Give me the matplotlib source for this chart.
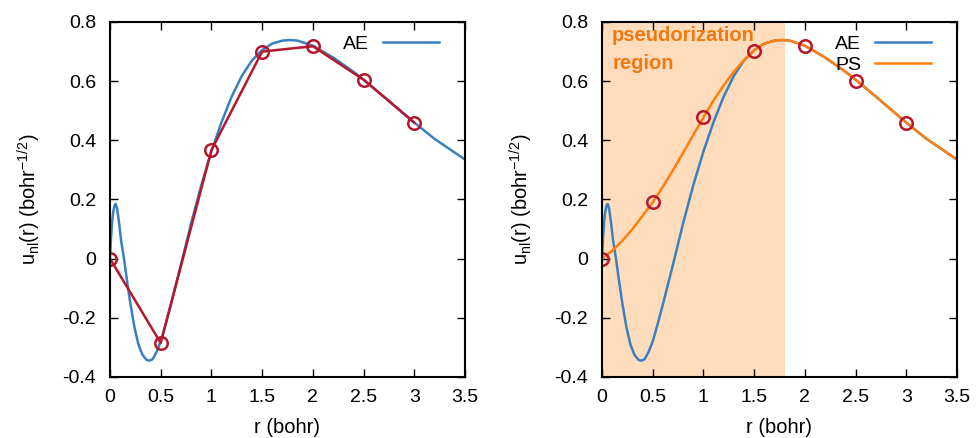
import matplotlib.pyplot as plt

plt.rcParams['font.family'] = ['Liberation Sans', 'DejaVu Sans']
plt.rcParams['mathtext.fontset'] = 'custom'
plt.rcParams['mathtext.rm'] = 'Liberation Sans'

# all-electron radial function
r_ae = [0, 0.01, 0.02, 0.03, 0.045, 0.056, 0.07, 0.09, 0.11, 0.138, 0.17, 0.2,
        0.24, 0.28, 0.32, 0.36, 0.385, 0.42, 0.46, 0.5, 0.55, 0.6, 0.7, 0.8,
        0.9, 1.0, 1.1, 1.2, 1.3, 1.4, 1.5, 1.6, 1.7, 1.77, 1.85, 2.0, 2.2,
        2.4, 2.5, 2.7, 3.0, 3.2, 3.5]
u_ae = [0, 0.07, 0.12, 0.155, 0.18, 0.185, 0.17, 0.12, 0.06, 0.0, -0.08, -0.15,
        -0.23, -0.29, -0.325, -0.342, -0.345, -0.34, -0.315, -0.28, -0.22, -0.155,
        -0.02, 0.12, 0.248, 0.362, 0.462, 0.548, 0.618, 0.67, 0.705, 0.727, 0.737,
        0.739, 0.737, 0.72, 0.68, 0.632, 0.605, 0.548, 0.46, 0.405, 0.335]

# pseudo wavefunction
r_ps = [0, 0.1, 0.2, 0.3, 0.4, 0.5, 0.6, 0.7, 0.8, 0.9, 1.0, 1.1, 1.2, 1.3,
        1.4, 1.5, 1.6, 1.7, 1.77, 1.85, 2.0, 2.2, 2.4, 2.5, 2.7, 3.0, 3.2, 3.5]
u_ps = [0, 0.027, 0.06, 0.10, 0.145, 0.19, 0.243, 0.299, 0.358, 0.418, 0.478, 0.535,
        0.586, 0.632, 0.671, 0.704, 0.727, 0.737, 0.739, 0.737, 0.72, 0.68, 0.632,
        0.605, 0.548, 0.46, 0.405, 0.335]

# grid samples (circles)
r_grid = [0, 0.5, 1.0, 1.5, 2.0, 2.5, 3.0]
u_grid_ae = [0, -0.285, 0.367, 0.70, 0.718, 0.605, 0.46]
u_grid_ps = [0, 0.19, 0.48, 0.703, 0.72, 0.60, 0.46]

r_cut = 1.8

blue = '#3a80c0'
orange = '#ff7f0e'
red = '#b5172d'

fig = plt.figure(figsize=(9.76, 4.38), dpi=100)
ax1 = fig.add_axes([0.1127, 0.1393, 0.3637, 0.8105])
ax2 = fig.add_axes([0.6168, 0.1393, 0.3637, 0.8105])

ax1.plot(r_ae, u_ae, color=blue, lw=1.8, label='AE')
ax1.plot(r_grid, u_grid_ae, color=red, lw=1.8, marker='o', ms=9,
         mfc='none', mec=red, mew=1.8)

ax2.axvspan(0, r_cut, color='#fedcbc', lw=0, zorder=0)
ax2.plot(r_ae, u_ae, color=blue, lw=1.8, label='AE')
ax2.plot(r_ps, u_ps, color=orange, lw=1.8, label='PS')
ax2.plot(r_grid, u_grid_ps, ls='none', marker='o', ms=9,
         mfc='none', mec=red, mew=1.8)
ax2.text(0.1, 0.785, 'pseudorization\nregion', color='#f07a10', fontsize=14.5,
         fontweight='bold', va='top', ha='left', linespacing=1.6)

for ax in (ax1, ax2):
    ax.set_xlim(0, 3.5)
    ax.set_ylim(-0.4, 0.8)
    ax.set_xticks([0, 0.5, 1, 1.5, 2, 2.5, 3, 3.5])
    ax.set_xticklabels(['0', '0.5', '1', '1.5', '2', '2.5', '3', '3.5'])
    ax.set_yticks([-0.4, -0.2, 0, 0.2, 0.4, 0.6, 0.8])
    ax.set_yticklabels(['-0.4', '-0.2', '0', '0.2', '0.4', '0.6', '0.8'])
    ax.tick_params(direction='in', length=6, width=1, top=True, right=True,
                   labelsize=14)
    ax.tick_params(axis='y', pad=10)
    ax.tick_params(axis='x', pad=9)
    for s in ax.spines.values():
        s.set_linewidth(1.5)
    ax.set_xlabel('r (bohr)', fontsize=14.5, labelpad=8)
    ax.set_ylabel(r'u$_{\rm nl}$(r) (bohr$^{-1/2}$)', fontsize=14.5, labelpad=14)
    ax.legend(loc='upper right', bbox_to_anchor=(0.966, 1.0), frameon=False,
              markerfirst=False, fontsize=14, handlelength=2.9,
              borderaxespad=0.3, labelspacing=0.15, handletextpad=0.7)

fig.savefig('out.png', dpi=100)
